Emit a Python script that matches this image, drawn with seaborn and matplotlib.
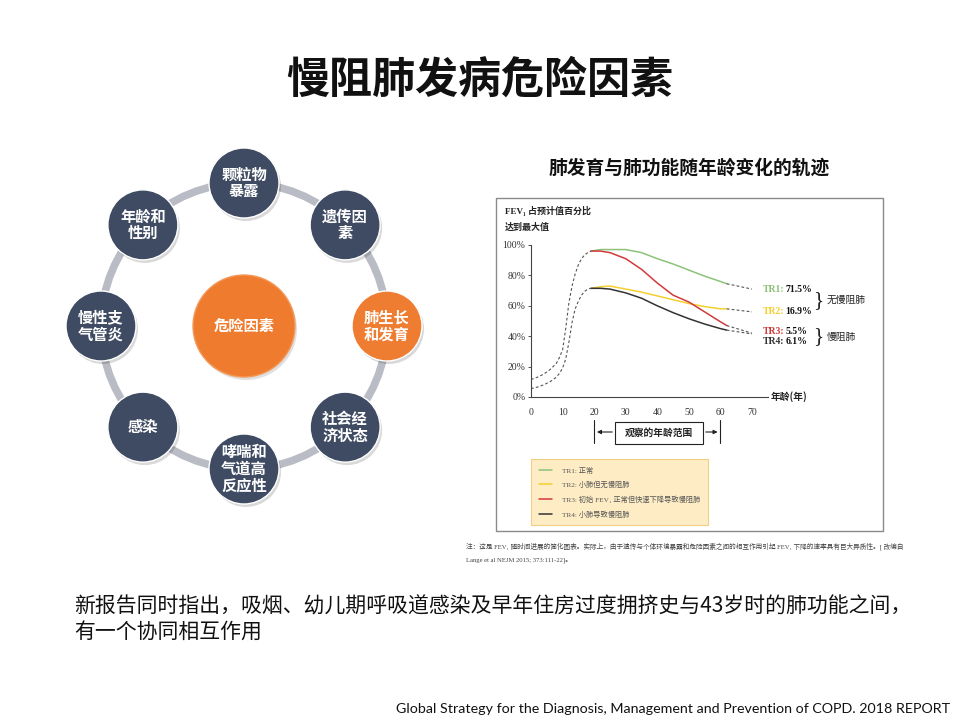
import matplotlib
matplotlib.use("Agg")
import matplotlib.pyplot as plt
import matplotlib.patches as mpatches
import matplotlib.transforms as mtransforms
import numpy as np
import pandas as pd
import seaborn as sns

# ---- ring diagram content ----
center_label = "危险因素"
factor_labels = ["颗粒物\n暴露", "遗传因\n素", "肺生长\n和发育", "社会经\n济状态",
                 "哮喘和\n气道高\n反应性", "感染", "慢性支\n气管炎", "年龄和\n性别"]
factor_is_orange = [False, False, True, False, False, False, False, False]

# ---- lung function trajectories (FEV1 % of predicted max) ----
growth_age = [0, 2, 4, 6, 8, 9, 10, 11, 12, 13, 14, 15, 16, 17, 18, 19]
growth_high = [11.5, 13, 15, 18, 22, 26, 31, 45, 62, 73, 81, 87, 91, 93.5, 95, 96]
growth_low = [5.5, 6.5, 8, 10, 13, 15.5, 19, 25, 36, 49, 58, 63, 67, 69.5, 71, 71.5]

adult_age = [19, 22, 25, 30, 35, 40, 45, 50, 55, 60, 62]
tr1 = [96, 97, 97, 97, 95, 91, 87.5, 83.5, 79.5, 76, 74.5]
tr2 = [71.5, 72.5, 73, 71, 69, 66.5, 64, 61.5, 59.5, 58, 58]
tr3 = [96, 96, 95, 91, 84, 75, 67, 62.5, 56, 49.5, 47]
tr4 = [71.5, 71.5, 71, 68.5, 65, 60, 55.5, 51.5, 48, 45, 44]

ext_age = [62, 70]
tr1_ext = [74.5, 71]
tr2_ext = [58, 56]
tr3_ext = [47, 42]
tr4_ext = [44, 41.5]

tr_names = ["TR1: 正常", "TR2: 小肺但无慢阻肺",
            "TR3: 初始 FEV₁ 正常但快速下降导致慢阻肺", "TR4: 小肺导致慢阻肺"]
tr_short = ["TR1:", "TR2:", "TR3:", "TR4:"]
tr_share = ["71.5%", "16.9%", "5.5%", "6.1%"]
tr_colors = ["#8cc27a", "#f5cf2f", "#d13a3c", "#333333"]

x_ticks = [0, 10, 20, 30, 40, 50, 60, 70]
y_ticks = [0, 20, 40, 60, 80, 100]

sns.set_theme(style="white")
cjk = ["Noto Sans CJK SC", "DejaVu Sans"]
serif = ["Liberation Serif", "Noto Sans CJK SC", "DejaVu Sans"]
plt.rcParams["font.family"] = cjk

fig = plt.figure(figsize=(9.6, 7.2), dpi=100)
bg = fig.add_axes([0, 0, 1, 1])
bg.set_xlim(0, 960)
bg.set_ylim(720, 0)
bg.axis("off")

# titles
bg.text(480, 80, "慢阻肺发病危险因素", ha="center", va="center", fontsize=31,
        fontweight="heavy", color="#111111")
bg.text(689, 168, "肺发育与肺功能随年龄变化的轨迹", ha="center", va="center",
        fontsize=13.5, fontweight="heavy", color="#111111")

# ring diagram
cx, cy, R = 244, 326, 143
bg.add_patch(mpatches.Circle((cx, cy), R, fill=False, lw=5.5, ec="#b9bcc4", zorder=1))
bg.add_patch(mpatches.Circle((cx + 2, cy + 3), 51, fc="#000000", alpha=0.12, lw=0, zorder=2))
bg.add_patch(mpatches.Circle((cx, cy), 51, fc="#ef7c2e", ec="#f39a5a", lw=1, zorder=3))
bg.text(cx, cy, center_label, ha="center", va="center", fontsize=11,
        fontweight="bold", color="white", zorder=4)
for i, (lab, orange) in enumerate(zip(factor_labels, factor_is_orange)):
    ang = np.deg2rad(90 - 45 * i)
    nx, ny = cx + R * np.cos(ang), cy - R * np.sin(ang)
    bg.add_patch(mpatches.Circle((nx + 2, ny + 3), 35, fc="#000000", alpha=0.15, lw=0, zorder=2))
    bg.add_patch(mpatches.Circle((nx, ny), 35, fc="#ef7d31" if orange else "#3e4b62",
                                 ec="white", lw=1, zorder=3))
    bg.text(nx, ny, lab, ha="center", va="center", fontsize=11, fontweight="bold",
            color="white", linespacing=1.05, zorder=4)

# frame around trajectory figure
bg.add_patch(mpatches.Rectangle((496, 198), 387, 333, fill=False, ec="#8a8a8a", lw=1))
bg.text(505, 211, "FEV₁ 占预计值百分比", ha="left", va="center", fontsize=6.5,
        family=serif, fontweight="bold", color="#222222")
bg.text(505, 227, "达到最大值", ha="left", va="center", fontsize=6.5,
        family=serif, fontweight="bold", color="#222222")

# trajectory chart
ax = fig.add_axes([531 / 960, 1 - 397 / 720, 75 * 3.157 / 960, 152 / 720])
ax.patch.set_alpha(0)

solid = pd.concat([
    pd.DataFrame({"age": adult_age, "fev": vals, "traj": name})
    for vals, name in zip([tr1, tr2, tr3, tr4], tr_names)
])
sns.lineplot(data=solid, x="age", y="fev", hue="traj", palette=tr_colors,
             hue_order=tr_names, lw=1.1, ax=ax, legend=True)

for vals in [tr1_ext, tr2_ext, tr3_ext, tr4_ext]:
    sns.lineplot(x=ext_age, y=vals, color="#555555", lw=0.8, ls=(0, (2.5, 2)), ax=ax)
for vals in [growth_high, growth_low]:
    sns.lineplot(x=growth_age, y=vals, color="#555555", lw=0.8, ls=(0, (2.5, 2)), ax=ax)

ax.set_xlim(0, 75)
ax.set_ylim(0, 100)
ax.set_xticks(x_ticks)
ax.set_yticks(y_ticks)
ax.set_yticklabels([f"{v}%" for v in y_ticks])
ax.set_xlabel("")
ax.set_ylabel("")
for side in ["top", "right"]:
    ax.spines[side].set_visible(False)
for side in ["left", "bottom"]:
    ax.spines[side].set_color("#444444")
    ax.spines[side].set_linewidth(0.8)
ax.tick_params(axis="both", labelsize=7, colors="#333333", length=2, width=0.6, pad=6)
ax.tick_params(axis="y", left=True, pad=2)
ax.tick_params(axis="x", bottom=False)
for lbl in ax.get_xticklabels() + ax.get_yticklabels():
    lbl.set_family(serif)

ax.text(76, 0, "年龄(年)", ha="left", va="center", fontsize=7, fontweight="bold",
        color="#222222", clip_on=False)

# share labels at the end of each trajectory
label_y = [70.4, 56, 42.8, 36.2]
for short, share, col, yy in zip(tr_short, tr_share, tr_colors, label_y):
    ax.text(73.5, yy, short, ha="left", va="center", fontsize=7, color=col,
            family=serif, fontweight="bold", clip_on=False)
    ax.text(80.6, yy, share, ha="left", va="center", fontsize=7, color="#111111",
            family=serif, fontweight="bold", clip_on=False)
bg.text(818, 301, "}", ha="center", va="center", fontsize=15, color="#222222",
        family=serif)
bg.text(818, 337, "}", ha="center", va="center", fontsize=15, color="#222222",
        family=serif)
bg.text(827, 300, "无慢阻肺", ha="left", va="center", fontsize=7, color="#222222")
bg.text(827, 337, "慢阻肺", ha="left", va="center", fontsize=7, color="#222222")

# observed age range
tr_mix = mtransforms.blended_transform_factory(ax.transData, bg.transData)
for xa in [20, 60]:
    ax.plot([xa, xa], [420, 443], color="#222222", lw=0.8, transform=tr_mix, clip_on=False)
ax.annotate("", xy=(20, 432), xytext=(615, 432), xycoords=tr_mix,
            textcoords=bg.transData,
            arrowprops=dict(arrowstyle="-|>", color="#222222", lw=0.8, mutation_scale=6))
ax.annotate("", xy=(60, 432), xytext=(703, 432), xycoords=tr_mix,
            textcoords=bg.transData,
            arrowprops=dict(arrowstyle="-|>", color="#222222", lw=0.8, mutation_scale=6))
bg.add_patch(mpatches.Rectangle((615, 422), 88, 22, fill=True, fc="white",
                                ec="#222222", lw=0.8))
bg.text(659, 433, "观察的年龄范围", ha="center", va="center", fontsize=7,
        fontweight="bold", color="#222222")

# legend
handles, labels = ax.get_legend_handles_labels()
leg = ax.legend(handles[:4], labels[:4], loc="upper left",
                bbox_to_anchor=(531 / 960, 1 - 459 / 720), bbox_transform=fig.transFigure,
                fontsize=5.2, handlelength=1.9, handletextpad=1.3, labelspacing=1.0,
                borderpad=1.05, borderaxespad=0, frameon=True, fancybox=False)
leg.get_frame().set_facecolor("#fde8b6")
leg.get_frame().set_edgecolor("#f0c46c")
leg.get_frame().set_linewidth(0.8)
for t in leg.get_texts():
    t.set_color("#555555")
    t.set_family(serif)

# note under the figure
bg.text(466, 546, "注：这是 FEV₁ 随时间进展的简化图表。实际上，由于遗传与个体环境暴露和危险因素之间的相互作用引起 FEV₁ 下降的速率具有巨大异质性。[ 改编自",
        ha="left", va="center", fontsize=4.8, color="#444444", family=serif)
bg.text(466, 560, "Lange et al NEJM 2015; 373:111-22]。", ha="left", va="center",
        fontsize=4.8, color="#444444", family=serif)

# body text
bg.text(74, 607, "新报告同时指出，吸烟、幼儿期呼吸道感染及早年住房过度拥挤史与43岁时的肺功能之间，",
        ha="left", va="center", fontsize=15, color="#111111")
bg.text(74, 633, "有一个协同相互作用", ha="left", va="center", fontsize=15, color="#111111")

bg.text(950, 709, "Global Strategy for the Diagnosis, Management and Prevention of COPD. 2018 REPORT",
        ha="right", va="center", fontsize=10.3, color="#111111", family=["Lato", "DejaVu Sans"])

fig.savefig("out.png", dpi=100)
